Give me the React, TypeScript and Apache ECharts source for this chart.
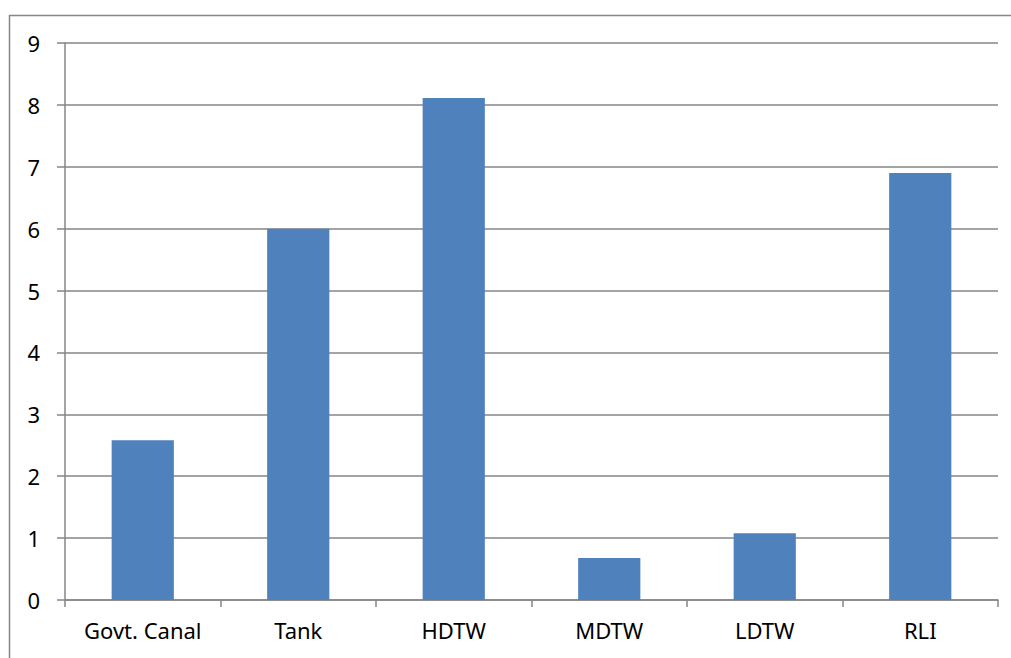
import React, { useEffect, useRef } from "react";
import * as echarts from "echarts";

const categories = ["Govt. Canal", "Tank", "HDTW", "MDTW", "LDTW", "RLI"];
const values = [2.58, 6.0, 8.11, 0.68, 1.08, 6.9];
const yMin = 0;
const yMax = 9;
const yInterval = 1;

export default function App() {
  const ref = useRef<HTMLDivElement>(null);
  useEffect(() => {
    if (!ref.current) return;
    const chart = echarts.init(ref.current, undefined, { renderer: "svg" });
    const gray = "#868686";
    const font = "Noto Sans";
    chart.setOption({
      animation: false,
      textStyle: { fontFamily: font },
      graphic: [
        {
          type: "rect",
          shape: { x: 9.5, y: 15.5, width: 1010, height: 700 },
          style: { fill: "none", stroke: gray, lineWidth: 1.5 },
          silent: true,
        },
      ],
      grid: { left: 65, right: 13, top: 43, bottom: 58, containLabel: false },
      xAxis: {
        type: "category",
        data: categories,
        boundaryGap: true,
        axisLine: { show: true, lineStyle: { color: gray, width: 1.5 } },
        axisTick: { show: true, length: 7, lineStyle: { color: gray, width: 1.5 } },
        axisLabel: { color: "#000", fontSize: 22, fontFamily: font, margin: 19 },
        splitLine: { show: false },
      },
      yAxis: {
        type: "value",
        min: yMin,
        max: yMax,
        interval: yInterval,
        axisLine: { show: true, lineStyle: { color: gray, width: 1.5 } },
        axisTick: { show: true, length: 8, lineStyle: { color: gray, width: 1.5 } },
        axisLabel: { color: "#000", fontSize: 22, fontFamily: font, margin: 25 },
        splitLine: { show: true, lineStyle: { color: gray, width: 1.5 } },
      },
      series: [
        {
          type: "bar",
          data: values,
          barWidth: "40%",
          itemStyle: { color: "#4F81BD" },
        },
      ],
    });
    return () => chart.dispose();
  }, []);
  return (
    <div
      ref={ref}
      style={{ position: "fixed", left: 0, top: 0, width: 1011, height: 658, background: "#fff" }}
    />
  );
}
